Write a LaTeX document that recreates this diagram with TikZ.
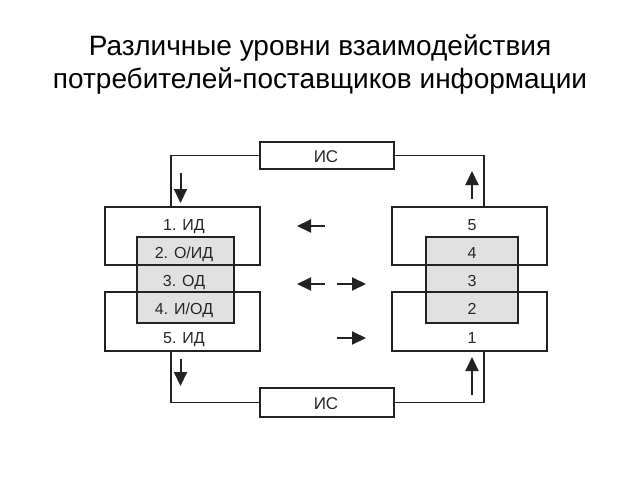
\documentclass[tikz,border=0pt]{standalone}
\usepackage{fontspec}
\setmainfont{Liberation Sans}
\usetikzlibrary{arrows.meta}
\definecolor{ln}{HTML}{222222}
\definecolor{gfill}{HTML}{E1E1E1}
\begin{document}
\begin{tikzpicture}[x=1pt,y=-1pt,
  frame/.style={draw=ln, line width=1.8pt, anchor=north west, inner sep=0pt, outer sep=0pt},
  graybox/.style={frame, fill=gfill},
  lab/.style={anchor=base, inner sep=0pt, font=\fontsize{16}{18}\selectfont, text=black!85},
  conn/.style={draw=ln, line width=1.8pt},
  arr/.style={draw=ln, line width=2pt, -{Triangle[length=14pt,width=13pt]}}]
\useasboundingbox (0,0) rectangle (640,480);
% title
\node[anchor=base, inner sep=0pt, font=\fontsize{28}{32}\selectfont] (title1) at (320,55) {Различные уровни взаимодействия};
\node[anchor=base, inner sep=0pt, font=\fontsize{28}{32}\selectfont] (title2) at (320,88) {потребителей-поставщиков информации};
% IS boxes
\node[frame, minimum width=134pt, minimum height=27pt] (ist) at (260,142) {};
\node[frame, minimum width=134pt, minimum height=29pt] (isb) at (260,388) {};
\node[lab, font=\fontsize{17}{19}\selectfont] (istl) at (326,162.5) {ИС};
\node[lab, font=\fontsize{17}{19}\selectfont] (isbl) at (326,409) {ИС};
% left group
\node[graybox, minimum width=97pt, minimum height=86pt] (gl) at (137,237) {};
\node[frame, minimum width=155pt, minimum height=58pt] (l1) at (105,207) {};
\node[frame, minimum width=155pt, minimum height=59pt] (l2) at (105,292) {};
\node[lab] (lt1) at (184,230.5) {1. ИД};
\node[lab] (lt2) at (184,258.5) {2. О/ИД};
\node[lab] (lt3) at (184,286.5) {3. ОД};
\node[lab] (lt4) at (184,314.5) {4. И/ОД};
\node[lab] (lt5) at (184,343) {5. ИД};
% right group
\node[graybox, minimum width=92pt, minimum height=86pt] (gr) at (426,237) {};
\node[frame, minimum width=155pt, minimum height=58pt] (r1) at (392,207) {};
\node[frame, minimum width=155pt, minimum height=59pt] (r2) at (392,292) {};
\node[lab] (rt5) at (472,230.5) {5};
\node[lab] (rt4) at (472,258.5) {4};
\node[lab] (rt3) at (472,286.5) {3};
\node[lab] (rt2) at (472,314.5) {2};
\node[lab] (rt1) at (472,343) {1};
% connectors
\coordinate (cl1) at (171,207);
\coordinate (cl2) at (171,351);
\coordinate (cr1) at (484,207);
\coordinate (cr2) at (484,351);
\draw[conn] (ist.west) -| (cl1);
\draw[conn] (isb.west) -| (cl2);
\draw[conn] (ist.east) -| (cr1);
\draw[conn] (isb.east) -| (cr2);
% arrows
\coordinate (a1s) at (180.5,173); \coordinate (a1e) at (180.5,203);
\coordinate (a2s) at (180.5,359); \coordinate (a2e) at (180.5,386);
\coordinate (a3s) at (472,199); \coordinate (a3e) at (472,171);
\coordinate (a4s) at (472,395); \coordinate (a4e) at (472,357);
\draw[arr] (a1s) -- (a1e);
\draw[arr] (a2s) -- (a2e);
\draw[arr] (a3s) -- (a3e);
\draw[arr] (a4s) -- (a4e);
\coordinate (m1s) at (325,226); \coordinate (m1e) at (297,226);
\coordinate (m2s) at (325,284); \coordinate (m2e) at (297,284);
\coordinate (m3s) at (337,284); \coordinate (m3e) at (366,284);
\coordinate (m4s) at (337,338); \coordinate (m4e) at (366,338);
\draw[arr] (m1s) -- (m1e);
\draw[arr] (m2s) -- (m2e);
\draw[arr] (m3s) -- (m3e);
\draw[arr] (m4s) -- (m4e);
\end{tikzpicture}
\end{document}
